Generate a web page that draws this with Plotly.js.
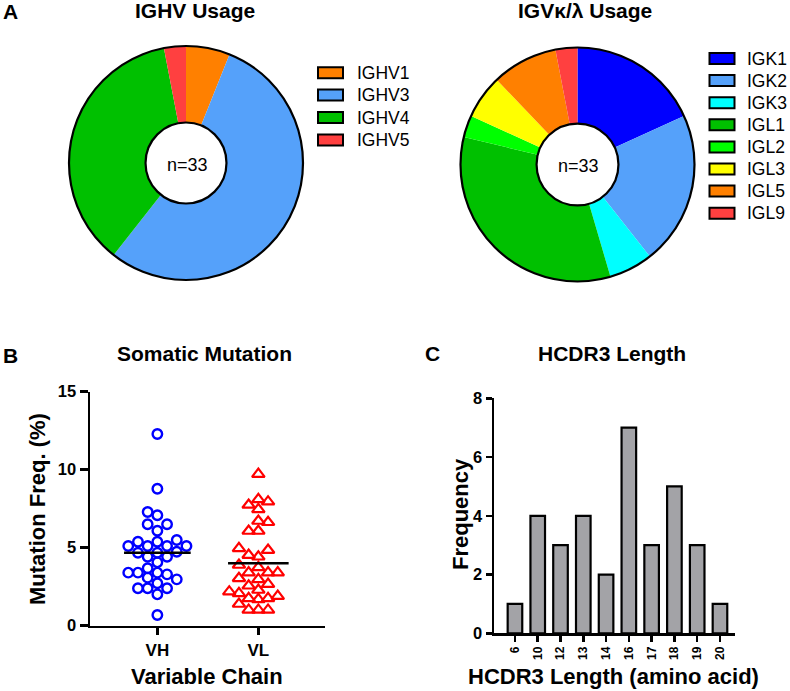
<!DOCTYPE html>
<html>
<head>
<meta charset="utf-8">
<script src="https://cdn.plot.ly/plotly-3.0.1.min.js"></script>
<style>html,body{margin:0;padding:0;background:#fff;}#chart{width:790px;height:691px;}</style>
</head>
<body>
<div id="chart"></div>
<script>
// ---------- DATA ----------
const ighvLabels = ['IGHV1', 'IGHV3', 'IGHV4', 'IGHV5'];
const ighvCounts = [2, 18, 12, 1];
const ighvColors = ['#ff8000', '#55a1fa', '#00c000', '#ff4040'];

const iglkLabels = ['IGK1', 'IGK2', 'IGK3', 'IGL1', 'IGL2', 'IGL3', 'IGL5', 'IGL9'];
const iglkCounts = [6, 7, 2, 11, 1, 2, 3, 1];
const iglkColors = ['#0000ff', '#55a1fa', '#00ffff', '#00c000', '#00ff00', '#ffff00', '#ff8000', '#ff4040'];

const chainNames = ['VH', 'VL'];
const vhMutation = [12.29, 8.78, 7.29, 7.08, 6.5, 6.5, 6.09, 5.38, 5.49, 5.38, 5.11, 5.11, 5.11, 5.11,
  4.68, 4.74, 4.68, 4.42, 4.42, 4.06, 3.68, 3.40, 3.40, 3.29, 3.40, 3.08, 2.97, 2.72, 2.40, 2.40, 2.40, 2.01, 0.69];
const vlMutation = [9.72, 7.95, 8.10, 7.74, 7.46, 6.71, 6.63, 6.07, 6.07, 4.85, 4.96, 4.53, 4.42, 3.89, 3.74,
  3.40, 3.40, 3.40, 3.04, 2.97, 2.56, 2.67, 2.29, 2.18, 1.90, 1.69, 1.75, 2.07, 1.75, 1.39, 1.01, 1.01, 1.01];

const hcdr3Lengths = ['6', '10', '12', '13', '14', '16', '17', '18', '19', '20'];
const hcdr3Freq = [1, 4, 3, 4, 2, 7, 3, 5, 3, 1];

// ---------- LAYOUT HELPERS ----------
const W = 790, H = 691;
const FONT = 'Liberation Sans, Arial, Helvetica, sans-serif';
const px = x => x / W;
const py = y => (H - y) / H;

// beeswarm placement in discrete columns (GraphPad-like)
function swarm(vals, center, pxPerX, pxPerY, dia) {
  const order = vals.map((v, i) => i).sort((a, b) => vals[a] - vals[b]);
  const placed = [];
  const xs = new Array(vals.length);
  const cols = [0];
  for (let k = 1; k < 12; k++) { cols.push(-k); cols.push(k); }
  order.forEach(i => {
    const v = vals[i];
    for (const c of cols) {
      const clash = placed.some(p => p.c === c && Math.abs(p.v - v) * pxPerY < dia * 0.95);
      if (!clash) { placed.push({ c, v }); xs[i] = center + c * dia / pxPerX; break; }
    }
  });
  return xs;
}
const mean = a => a.reduce((s, v) => s + v, 0) / a.length;

const pxPerXB = 101, pxPerYB = 234 / 15, dotDia = 9.7;
const vhX = swarm(vhMutation, 0, pxPerXB, pxPerYB, dotDia);
const vlX = swarm(vlMutation, 1, pxPerXB, pxPerYB, dotDia);

// pies
const pie1 = { cx: 186, cy: 163, r: 117, hole: 0.346 };
const pie2 = { cx: 577.5, cy: 164.5, r: 117, hole: 0.35 };
function pieDomain(p) {
  return { x: [px(p.cx - p.r), px(p.cx + p.r)], y: [py(p.cy + p.r), py(p.cy - p.r)] };
}

const traces = [
  {
    type: 'pie', labels: ighvLabels, values: ighvCounts, marker: { colors: ighvColors, line: { width: 0 } },
    hole: pie1.hole, sort: false, direction: 'clockwise', rotation: 0, textinfo: 'none',
    showlegend: false, domain: pieDomain(pie1), hoverinfo: 'label+value'
  },
  {
    type: 'pie', labels: iglkLabels, values: iglkCounts, marker: { colors: iglkColors, line: { width: 0 } },
    hole: pie2.hole, sort: false, direction: 'clockwise', rotation: 0, textinfo: 'none',
    showlegend: false, domain: pieDomain(pie2), hoverinfo: 'label+value'
  },
  {
    type: 'scatter', mode: 'markers', x: vhX, y: vhMutation, xaxis: 'x', yaxis: 'y', showlegend: false,
    marker: { symbol: 'circle-open', size: 9.5, color: '#0000ff', line: { width: 2.4, color: '#0000ff' } }
  },
  {
    type: 'scatter', mode: 'markers', x: vlX, y: vlMutation, xaxis: 'x', yaxis: 'y', showlegend: false,
    marker: { symbol: 'triangle-up-open', size: 11, color: '#ff0000', line: { width: 2.2, color: '#ff0000' } }
  },
  {
    type: 'scatter', mode: 'lines', x: [-0.33, 0.33], y: [mean(vhMutation), mean(vhMutation)],
    xaxis: 'x', yaxis: 'y', showlegend: false, line: { color: '#000', width: 2.5 }
  },
  {
    type: 'scatter', mode: 'lines', x: [1 - 0.3, 1 + 0.3], y: [mean(vlMutation), mean(vlMutation)],
    xaxis: 'x', yaxis: 'y', showlegend: false, line: { color: '#000', width: 2.5 }
  },
  {
    type: 'bar', x: hcdr3Lengths, y: hcdr3Freq, xaxis: 'x2', yaxis: 'y2', width: 0.64, showlegend: false,
    marker: { color: '#a3a3a7', line: { color: '#000', width: 2.2 } }
  }
];

const shapes = [];
const annotations = [];

// pie outlines
[pie1, pie2].forEach(p => {
  [p.r, p.r * p.hole].forEach(rr => {
    shapes.push({
      type: 'circle', xref: 'paper', yref: 'paper',
      x0: px(p.cx - rr), x1: px(p.cx + rr), y0: py(p.cy + rr), y1: py(p.cy - rr),
      line: { color: '#000', width: 2.2 }, fillcolor: 'rgba(0,0,0,0)'
    });
  });
  annotations.push({
    xref: 'paper', yref: 'paper', x: px(p.cx + 1), y: py(p.cy + 2), text: 'n=33', showarrow: false,
    xanchor: 'center', yanchor: 'middle', font: { family: FONT, size: 18, color: '#000' }
  });
});

// legends
function legend(labels, colors, boxX, textX, y0, step) {
  labels.forEach((lab, i) => {
    const cy = y0 + i * step;
    shapes.push({
      type: 'rect', xref: 'paper', yref: 'paper',
      x0: px(boxX), x1: px(boxX + 25), y0: py(cy + 5.5), y1: py(cy - 5.5),
      line: { color: '#000', width: 2 }, fillcolor: colors[i]
    });
    annotations.push({
      xref: 'paper', yref: 'paper', x: px(textX), y: py(cy), text: lab, showarrow: false,
      xanchor: 'left', yanchor: 'middle', font: { family: FONT, size: 17.5, color: '#000' }
    });
  });
}
legend(ighvLabels, ighvColors, 318, 355, 72.7, 22.4);
legend(iglkLabels, iglkColors, 709.5, 745, 58.5, 22.1);

function label(text, x, y, size, angle) {
  annotations.push({
    xref: 'paper', yref: 'paper', x: px(x), y: py(y), text: '<b>' + text + '</b>', showarrow: false,
    xanchor: 'center', yanchor: 'middle', textangle: angle || 0,
    font: { family: FONT, size: size, color: '#000' }
  });
}
label('A', 10, 11, 21);
label('IGHV Usage', 195, 10, 21);
label('IGVκ/λ Usage', 585, 10, 21);
label('B', 10, 355, 21);
label('Somatic Mutation', 204, 353, 21);
label('C', 432, 353, 21);
label('HCDR3 Length', 612, 353, 21);
label('Mutation Freq. (%)', 38, 509, 22, -90);
label('Variable Chain', 207, 676, 22);
label('Frequency', 460, 514, 22, -90);
label('HCDR3 Length (amino acid)', 613, 676, 22);

const axisCommon = {
  showline: true, linecolor: '#000', linewidth: 2.5, ticks: 'outside', tickcolor: '#000', tickwidth: 2.5,
  showgrid: false, zeroline: false, fixedrange: true,
  tickfont: { family: FONT, size: 16.5, color: '#000', weight: 'bold' }
};

const layout = {
  width: W, height: H, margin: { l: 0, r: 0, t: 0, b: 0 },
  paper_bgcolor: '#fff', plot_bgcolor: 'rgba(0,0,0,0)', showlegend: false,
  font: { family: FONT, color: '#000' },
  xaxis: Object.assign({}, axisCommon, {
    domain: [px(90), px(325)], range: [-0.667, 1.66], anchor: 'y',
    tickvals: [0, 1], ticktext: chainNames, ticklen: 7,
    tickfont: { family: FONT, size: 17, color: '#000', weight: 'bold' }
  }),
  yaxis: Object.assign({}, axisCommon, {
    domain: [py(625.7), py(391.7)], range: [0, 15], anchor: 'x',
    tickvals: [0, 5, 10, 15], ticklen: 8
  }),
  xaxis2: Object.assign({}, axisCommon, {
    domain: [px(494), px(735)], range: [-0.92, 9.66], anchor: 'y2', type: 'category',
    tickangle: -90, ticklen: 6,
    tickfont: { family: FONT, size: 12, color: '#000', weight: 'bold' }
  }),
  yaxis2: Object.assign({}, axisCommon, {
    domain: [py(633.3), py(398.3)], range: [0, 8], anchor: 'x2',
    tickvals: [0, 2, 4, 6, 8], ticklen: 6
  }),
  shapes: shapes,
  annotations: annotations
};

Plotly.newPlot('chart', traces, layout, { displayModeBar: false, staticPlot: true });
</script>
</body>
</html>
